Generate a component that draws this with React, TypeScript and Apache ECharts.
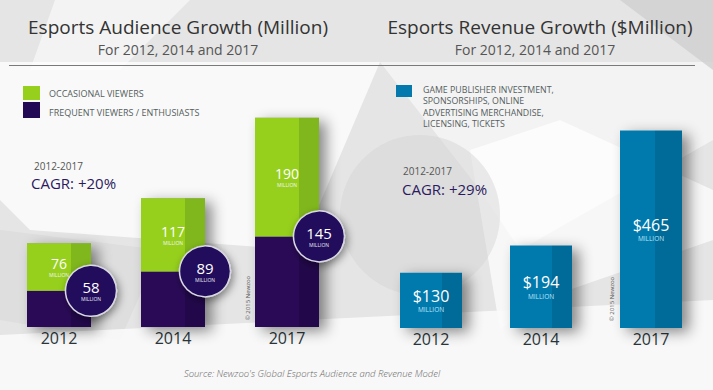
import React, { useEffect, useRef } from "react";
import * as echarts from "echarts";

const years = ["2012", "2014", "2017"];
const frequentViewers = [58, 89, 145];
const occasionalViewers = [76, 117, 190];
const revenue = [130, 194, 465];
const legendAudience = ["OCCASIONAL VIEWERS", "FREQUENT VIEWERS / ENTHUSIASTS"];
const legendRevenue = ["GAME PUBLISHER INVESTMENT,", "SPONSORSHIPS, ONLINE", "ADVERTISING MERCHANDISE,", "LICENSING, TICKETS"];

const FONT = "'Open Sans', 'Noto Sans', sans-serif";

function strip(light: string, dark: string, split = 0.68) {
  return {
    type: "linear",
    x: 0, y: 0, x2: 1, y2: 0,
    colorStops: [
      { offset: 0, color: light },
      { offset: split, color: light },
      { offset: split, color: dark },
      { offset: 1, color: dark },
    ],
  };
}

const GREEN = strip("#96d01c", "#80b71c");
const PURPLE = strip("#2a0a57", "#22084a");

export default function App() {
  const ref = useRef<HTMLDivElement>(null);
  useEffect(() => {
    if (!ref.current) return;
    const chart = echarts.init(ref.current, null, { renderer: "svg" });
    const totals = years.map((_, i) => frequentViewers[i] + occasionalViewers[i]);
    const bg = (points: number[][], fill: string, opacity = 1) => ({
      type: "polygon",
      z: -10,
      silent: true,
      shape: { points },
      style: { fill, opacity },
    });
    const txt = (x: number, y: number, text: string, style: any, extra: any = {}) => ({
      type: "text",
      x,
      y,
      z: 50,
      silent: true,
      style: { text, fontFamily: FONT, verticalAlign: "middle", ...style },
      ...extra,
    });
    const option: any = {
      animation: false,
      backgroundColor: "#e3e3e3",
      graphic: [
        bg([[0, 0], [713, 0], [713, 390], [0, 390]], "#e5e5e5"),
        bg([[55, 0], [190, 0], [120, 70], [30, 70]], "#ffffff", 0.55),
        bg([[0, 62], [380, 62], [300, 250], [30, 230], [0, 200]], "#ffffff", 0.75),
        bg([[0, 230], [160, 250], [120, 340], [0, 320]], "#d8d8d8", 0.5),
        bg([[380, 62], [713, 62], [713, 140], [520, 250], [480, 190]], "#ffffff", 0.55),
        bg([[470, 150], [560, 120], [713, 190], [713, 240], [540, 300], [500, 330]], "#ffffff", 0.7),
        bg([[0, 335], [713, 300], [713, 390], [0, 390]], "#fafafa", 0.9),
        {
          type: "circle", z: -9, silent: true,
          shape: { cx: 420, cy: 215, r: 80 },
          style: { fill: "#d2d2d2", opacity: 0.45 },
        },
        bg([[620, 0], [713, 0], [713, 70]], "#cfcfcf", 0.8),
        {
          type: "line", z: 5, silent: true,
          shape: { x1: 9, y1: 65.5, x2: 695, y2: 65.5 },
          style: { stroke: "#7a7a7a", lineWidth: 1 },
        },
        txt(178, 26.5, "Esports Audience Growth (Million)", { fontSize: 19, fill: "#333", align: "center" }),
        txt(178, 49, "For 2012, 2014 and 2017", { fontSize: 14, fill: "#555", align: "center" }),
        txt(540, 26.5, "Esports Revenue Growth ($Million)", { fontSize: 19, fill: "#333", align: "center" }),
        txt(535, 49, "For 2012, 2014 and 2017", { fontSize: 14, fill: "#555", align: "center" }),
        { type: "rect", z: 50, silent: true, shape: { x: 23, y: 86, width: 17, height: 14 }, style: { fill: "#96d01c" } },
        { type: "rect", z: 50, silent: true, shape: { x: 23, y: 102, width: 17, height: 16 }, style: { fill: "#230a55" } },
        txt(49, 93, legendAudience[0], { fontSize: 9, fill: "#555d60" }),
        txt(49, 112, legendAudience[1], { fontSize: 9, fill: "#555d60" }),
        { type: "rect", z: 50, silent: true, shape: { x: 396, y: 85, width: 16, height: 12 }, style: { fill: "#0379ad" } },
        ...legendRevenue.map((line, i) => txt(423, 90 + i * 11.4, line, { fontSize: 8.8, fill: "#555d60" })),
        txt(34, 166, "2012-2017", { fontSize: 10, fill: "#555" }),
        txt(31, 183, "CAGR: +20%", { fontSize: 15, fill: "#2b1a60" }),
        txt(403, 171, "2012-2017", { fontSize: 10, fill: "#555" }),
        txt(402, 189, "CAGR: +29%", { fontSize: 15, fill: "#2b1a60" }),
        txt(248, 298, "© 2015 Newzoo", { fontSize: 6, fill: "#555", align: "center" }, { rotation: Math.PI / 2 }),
        txt(612, 299, "© 2015 Newzoo", { fontSize: 6, fill: "#555", align: "center" }, { rotation: Math.PI / 2 }),
        txt(312, 373, "Source: Newzoo's Global Esports Audience and Revenue Model", {
          fontSize: 9.5, fill: "#666", fontStyle: "italic", fontWeight: 300, align: "center",
        }),
      ],
      grid: [
        { left: 2, width: 342, top: 77, height: 250 },
        { left: 376, width: 330, top: 73, height: 255 },
      ],
      xAxis: [0, 1].map((g) => ({
        type: "category",
        gridIndex: g,
        data: years,
        axisLine: { show: false },
        axisTick: { show: false },
        axisLabel: { margin: 3, fontSize: 16, fontWeight: "normal", color: "#2a353a", fontFamily: FONT },
      })),
      yAxis: [
        { type: "value", gridIndex: 0, min: 0, max: 400, show: false, splitLine: { show: false } },
        { type: "value", gridIndex: 1, min: 0, max: 600, show: false, splitLine: { show: false } },
      ],
      series: [
        {
          type: "bar", xAxisIndex: 0, yAxisIndex: 0, barWidth: 64, barGap: "-100%", z: 1,
          data: totals, silent: true,
          itemStyle: { color: "#9a9a9a", shadowBlur: 14, shadowColor: "rgba(0,0,0,0.45)", shadowOffsetX: 7, shadowOffsetY: 4 },
        },
        {
          type: "bar", name: "Frequent", stack: "aud", xAxisIndex: 0, yAxisIndex: 0, barWidth: 64, barGap: "-100%", z: 2,
          data: frequentViewers, itemStyle: { color: PURPLE },
        },
        {
          type: "bar", name: "Occasional", stack: "aud", xAxisIndex: 0, yAxisIndex: 0, barWidth: 64, barGap: "-100%", z: 2,
          data: occasionalViewers, itemStyle: { color: GREEN },
          label: {
            show: true, position: "inside",
            formatter: (p: any) => `{n|${p.value}}\n{m|MILLION}`,
            rich: {
              n: { fontSize: 14, color: "#fff", fontFamily: FONT, lineHeight: 16 },
              m: { fontSize: 5, color: "#f4f4f4", fontFamily: FONT, lineHeight: 7 },
            },
          },
        },
        {
          type: "scatter", xAxisIndex: 0, yAxisIndex: 0, z: 5,
          data: frequentViewers, symbol: "circle", symbolSize: 51, symbolOffset: [32, 0],
          itemStyle: { color: "#200a5b", opacity: 1, borderColor: "#d9d9e3", borderWidth: 1.5, shadowBlur: 8, shadowColor: "rgba(0,0,0,0.45)", shadowOffsetX: 2, shadowOffsetY: 3 },
          label: {
            show: true, position: "inside",
            formatter: (p: any) => `{n|${p.value}}\n{m|MILLION}`,
            rich: {
              n: { fontSize: 15, color: "#fff", fontFamily: FONT, lineHeight: 17 },
              m: { fontSize: 5, color: "#e6e6f0", fontFamily: FONT, lineHeight: 7 },
            },
          },
        },
        {
          type: "bar", xAxisIndex: 1, yAxisIndex: 1, barWidth: 62, z: 2,
          data: revenue.map((v, i) => ({
            value: v,
            itemStyle: { color: strip("#0379ad", "#006a98", i === 2 ? 0.56 : 0.68) },
          })),
          itemStyle: { shadowBlur: 14, shadowColor: "rgba(0,0,0,0.45)", shadowOffsetX: 7, shadowOffsetY: 4 },
          label: {
            show: true, position: "inside",
            formatter: (p: any) => `{n|$${p.value}}\n{m|MILLION}`,
            rich: {
              n: { fontSize: 16, color: "#fff", fontFamily: FONT, lineHeight: 19 },
              m: { fontSize: 6.5, color: "#bfe6f7", fontFamily: FONT, lineHeight: 9 },
            },
          },
        },
      ],
    };
    chart.setOption(option);
    return () => chart.dispose();
  }, []);
  return <div ref={ref} style={{ position: "fixed", left: 0, top: 0, width: 713, height: 390 }} />;
}
